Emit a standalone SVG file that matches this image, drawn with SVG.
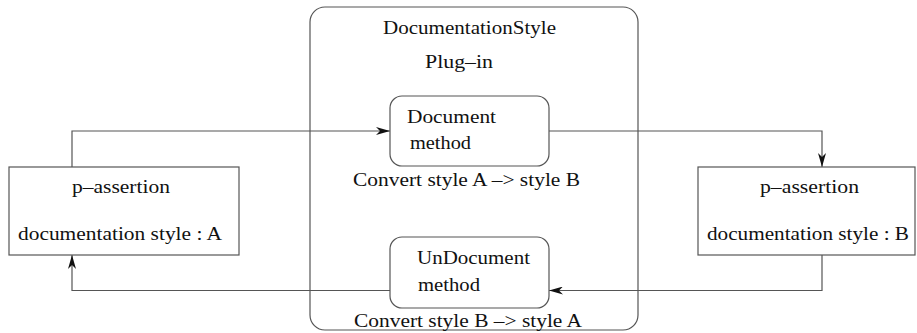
<svg xmlns="http://www.w3.org/2000/svg" width="917" height="333" viewBox="0 0 917 333">
  <defs>
    <marker id="arrow" viewBox="0 0 14 8" refX="14" refY="4" markerWidth="14" markerHeight="8" markerUnits="userSpaceOnUse" orient="auto">
      <path d="M0,0 L14,4 L0,8 L4,4 Z" fill="#111"/>
    </marker>
  </defs>
  <style>
    .box { fill: #fff; stroke: #555; stroke-width: 1.2; }
    .edge { fill: none; stroke: #555; stroke-width: 1.2; }
    text { font-family: "Liberation Serif", "Times New Roman", serif; font-size: 18px; fill: #111; }
  </style>
  <rect width="917" height="333" fill="#fff"/>

  <!-- plug-in container -->
  <g id="plugin">
    <rect class="box" x="310" y="7" width="328" height="323" rx="15" ry="15"/>
    <text x="383" y="34" textLength="173" lengthAdjust="spacingAndGlyphs">DocumentationStyle</text>
    <text x="425" y="68" textLength="68" lengthAdjust="spacingAndGlyphs">Plug–in</text>
  </g>

  <!-- connectors -->
  <g id="connectors">
    <polyline class="edge" points="72,167 72,131 390,131" marker-end="url(#arrow)"/>
    <polyline class="edge" points="549,131 822,131 822,167" marker-end="url(#arrow)"/>
    <polyline class="edge" points="822,255 822,290.5 549,290.5" marker-end="url(#arrow)"/>
    <polyline class="edge" points="390,290.5 72,290.5 72,255" marker-end="url(#arrow)"/>
  </g>

  <g id="document">
    <rect class="box" x="390" y="96" width="159" height="70" rx="12" ry="12"/>
    <text x="407" y="123" textLength="89" lengthAdjust="spacingAndGlyphs">Document</text>
    <text x="410" y="149" textLength="61" lengthAdjust="spacingAndGlyphs">method</text>
    <text x="353" y="186" textLength="227" lengthAdjust="spacingAndGlyphs">Convert style A –&gt; style B</text>
  </g>

  <g id="undocument">
    <rect class="box" x="390" y="237" width="159" height="71" rx="12" ry="12"/>
    <text x="417" y="264" textLength="113" lengthAdjust="spacingAndGlyphs">UnDocument</text>
    <text x="418" y="291" textLength="62" lengthAdjust="spacingAndGlyphs">method</text>
    <text x="354" y="327" textLength="228" lengthAdjust="spacingAndGlyphs">Convert style B –&gt; style A</text>
  </g>

  <g id="assertion-a">
    <rect class="box" x="9" y="167" width="230" height="88"/>
    <text x="72" y="193" textLength="98" lengthAdjust="spacingAndGlyphs">p–assertion</text>
    <text x="18" y="240" textLength="204" lengthAdjust="spacingAndGlyphs">documentation style : A</text>
  </g>

  <g id="assertion-b">
    <rect class="box" x="698" y="167" width="217" height="88"/>
    <text x="760" y="193" textLength="99" lengthAdjust="spacingAndGlyphs">p–assertion</text>
    <text x="707" y="240" textLength="202" lengthAdjust="spacingAndGlyphs">documentation style : B</text>
  </g>
</svg>
